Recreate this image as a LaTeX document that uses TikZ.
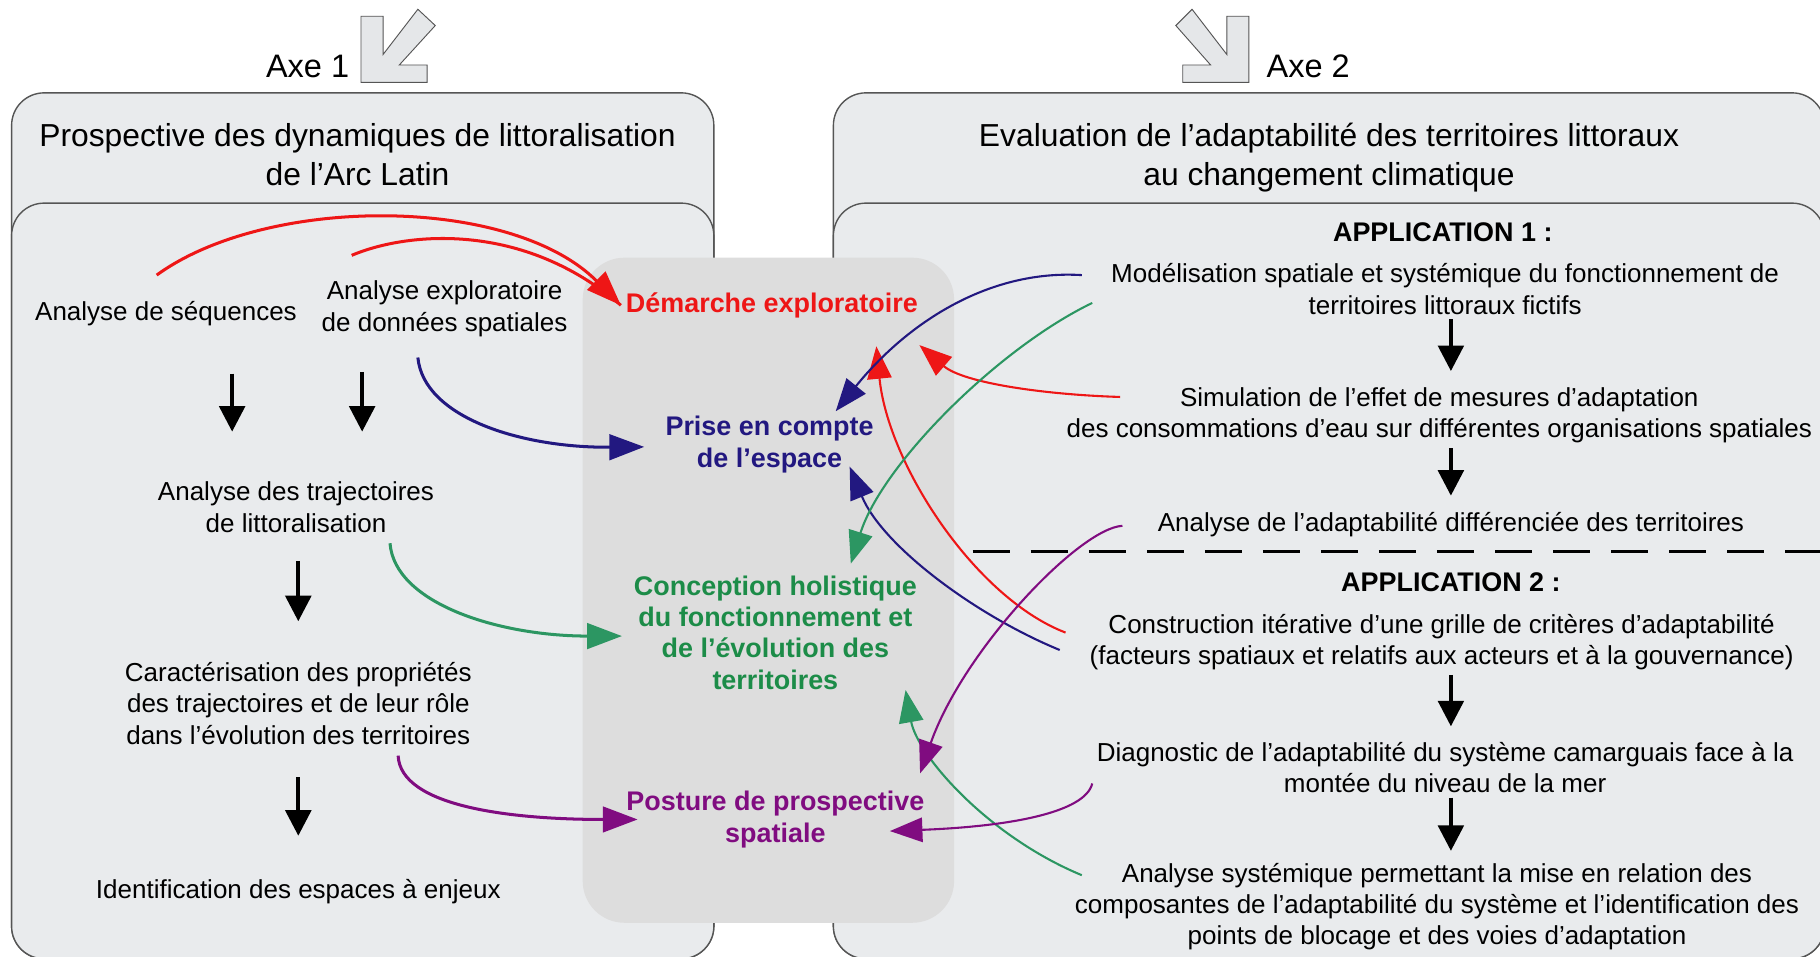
\documentclass[tikz,border=0pt]{standalone}
\usepackage{fontspec}
\setmainfont{Liberation Sans}
\usepackage{xcolor}
\usepackage{tikz}
\usetikzlibrary{arrows.meta,calc}

\definecolor{boxfill}{RGB}{233,235,237}
\definecolor{boxline}{RGB}{85,85,85}
\definecolor{corefill}{RGB}{221,221,221}
\definecolor{axefill}{RGB}{229,231,233}
\definecolor{cred}{RGB}{238,22,22}
\definecolor{cblue}{RGB}{34,24,128}
\definecolor{cgreen}{RGB}{28,140,72}
\definecolor{cgreenln}{RGB}{44,150,98}
\definecolor{cpurple}{RGB}{128,12,128}

\tikzset{
    panel/.style={draw=boxline, fill=boxfill, line width=0.6pt, rounded corners=14pt},
    corebox/.style={fill=corefill, rounded corners=18pt},
    axeicon/.style={draw=boxline, fill=axefill, line width=0.4pt},
    bodytxt/.style={align=center, inner sep=2pt, font=\fontsize{11.2}{13.5}\selectfont},
    headtxt/.style={align=center, inner sep=2pt, font=\fontsize{13.7}{17}\selectfont},
    keytxt/.style={align=center, inner sep=2pt, font=\bfseries\fontsize{11.6}{13.5}\selectfont},
    flow/.style={-{Triangle[length=11pt,width=11pt]}, line width=1.7pt},
    link/.style={-{Triangle[length=15pt,width=11pt]}, line width=1.3pt},
    linkthin/.style={-{Triangle[length=14pt,width=10.5pt]}, line width=0.9pt},
}

\begin{document}
\begin{tikzpicture}[x=0.5pt, y=-0.5pt]
    \clip (0,0) rectangle (1568,824);
    \fill [white] (0,0) rectangle (1568,824);

    \draw [panel] (10,80) rectangle (615,826);
    \draw [panel] (10,175) rectangle (615,826);
    \draw [panel] (718,80) rectangle (1572,826);
    \draw [panel] (718,175) rectangle (1572,826);
    \fill [corebox] (502,222) rectangle (822,795);

    \draw [axeicon] (311,14) -- (330,14) -- (330,47) -- (360,8) -- (375,22) -- (344,56)
        -- (368,56) -- (368,71) -- (311,71) -- cycle;
    \draw [axeicon] (1076,14) -- (1057,14) -- (1057,47) -- (1027,8) -- (1013,22) -- (1043,56)
        -- (1019,56) -- (1019,71) -- (1076,71) -- cycle;
    \node [headtxt, font=\fontsize{14}{17}\selectfont] (axe1) at (265,57) {Axe 1};
    \node [headtxt, font=\fontsize{14}{17}\selectfont] (axe2) at (1127,57) {Axe 2};

    \node [headtxt] (headL) at (308,133) {Prospective des dynamiques de littoralisation\\de l’Arc Latin};
    \node [headtxt] (headR) at (1145,136) {Evaluation de l’adaptabilité des territoires littoraux\\au changement climatique};

    \node [bodytxt] (seq) at (143,270) {Analyse de séquences};
    \node [bodytxt] (aeds) at (383,266) {Analyse exploratoire\\de données spatiales};
    \node [bodytxt] (traj) at (255,437) {Analyse des trajectoires\\de littoralisation};
    \node [bodytxt] (carac) at (257,606) {Caractérisation des propriétés\\des trajectoires et de leur rôle\\dans l’évolution des territoires};
    \node [bodytxt] (ident) at (257,768) {Identification des espaces à enjeux};

    \node [keytxt, text=cred] (demarche) at (665,263) {Démarche exploratoire};
    \node [keytxt, text=cblue] (prise) at (663,383) {Prise en compte\\de l’espace};
    \node [keytxt, text=cgreen] (concep) at (668,545) {Conception holistique\\du fonctionnement et\\de l’évolution des\\territoires};
    \node [keytxt, text=cpurple] (posture) at (668,706) {Posture de prospective\\spatiale};

    \node [keytxt] (app1) at (1243,200) {APPLICATION 1 :};
    \node [bodytxt] (modele) at (1245,249) {Modélisation spatiale et systémique du fonctionnement de\\territoires littoraux fictifs};
    \node [bodytxt] (simul) at (1240,358) {Simulation de l’effet de mesures d’adaptation\\des consommations d’eau sur différentes organisations spatiales};
    \node [bodytxt] (adapt) at (1250,452) {Analyse de l’adaptabilité différenciée des territoires};
    \draw [line width=1.5pt, dash pattern=on 16pt off 9pt] (838,475) -- (1568,475);
    \node [keytxt] (app2) at (1250,502) {APPLICATION 2 :};
    \node [bodytxt] (constr) at (1242,553) {Construction itérative d’une grille de critères d’adaptabilité\\(facteurs spatiaux et relatifs aux acteurs et à la gouvernance)};
    \node [bodytxt] (diag) at (1245,661) {Diagnostic de l’adaptabilité du système camarguais face à la\\montée du niveau de la mer};
    \node [bodytxt] (systm) at (1238,781) {Analyse systémique permettant la mise en relation des\\composantes de l’adaptabilité du système et l’identification des\\points de blocage et des voies d’adaptation};

    \coordinate (colA) at (200,0);
    \coordinate (colB) at (312,0);
    \coordinate (colL) at (257,0);
    \coordinate (colR) at (1250,0);
    \draw [flow, shorten <=18.5pt, shorten >=19.5pt] (seq.south -| colA) -- (traj.north -| colA);
    \draw [flow, shorten <=13pt, shorten >=19.5pt] (aeds.south -| colB) -- (traj.north -| colB);
    \draw [flow, shorten <=10pt, shorten >=15.5pt] (traj.south -| colL) -- (carac.north -| colL);
    \draw [flow, shorten <=12pt, shorten >=16.5pt] (carac.south -| colL) -- (ident.north -| colL);
    \draw [flow, shorten >=5pt] (modele.south -| colR) -- (simul.north -| colR);
    \draw [flow, shorten >=5pt] (simul.south -| colR) -- (adapt.north -| colR);
    \draw [flow, shorten >=4.5pt] (constr.south -| colR) -- (diag.north -| colR);
    \draw [flow, shorten >=3pt] (diag.south -| colR) -- (systm.north -| colR);

    \coordinate (rA) at (135,237);
    \coordinate (rB) at (303,220);
    \coordinate (rC) at (965,342);
    \coordinate (rD) at (918,545);
    \coordinate (bA) at (360,308);
    \coordinate (bB) at (932,237);
    \coordinate (bC) at (913,560);
    \coordinate (gA) at (336,468);
    \coordinate (gB) at (941,261);
    \coordinate (gC) at (932,754);
    \coordinate (pA) at (343,651);
    \coordinate (pB) at (967,453);
    \coordinate (pC) at (941,675);

    \draw [link, cred] (rA) .. controls (230,168) and (440,168) .. (demarche.west);
    \draw [cred, line width=1.3pt] (rB) .. controls (350,200) and (450,190) .. (demarche.west);
    \draw [linkthin, cred] (rC) .. controls (900,340) and (830,330) .. ($(demarche.south east)+(-3,19)$);
    \draw [linkthin, cred] (rD) .. controls (840,515) and (765,400) .. ($(demarche.south)+(90,20)$);

    \draw [link, cblue] (bA) .. controls (365,360) and (450,386) .. ($(prise.west)+(-14,2)$);
    \draw [linkthin, cblue] (bB) .. controls (850,232) and (780,280) .. ($(prise.north)+(57,0)$);
    \draw [linkthin, cblue] (bC) .. controls (840,530) and (760,470) .. ($(prise.east)+(-25,19)$);

    \draw [link, cgreenln] (gA) .. controls (340,520) and (430,548) .. ($(concep.west)+(-6,3)$);
    \draw [linkthin, cgreenln] (gB) .. controls (860,300) and (760,400) .. ($(concep.north)+(65,-6)$);
    \draw [linkthin, cgreenln] (gC) .. controls (850,720) and (790,650) .. ($(concep.south east)+(-14,-4)$);

    \draw [link, cpurple] (pA) .. controls (345,695) and (440,706) .. ($(posture.west)+(14,0)$);
    \draw [linkthin, cpurple] (pB) .. controls (930,455) and (830,560) .. ($(posture.north east)+(-8,-11)$);
    \draw [linkthin, cpurple] (pC) .. controls (935,700) and (870,712) .. ($(posture.east)+(-34,10)$);
\end{tikzpicture}
\end{document}
